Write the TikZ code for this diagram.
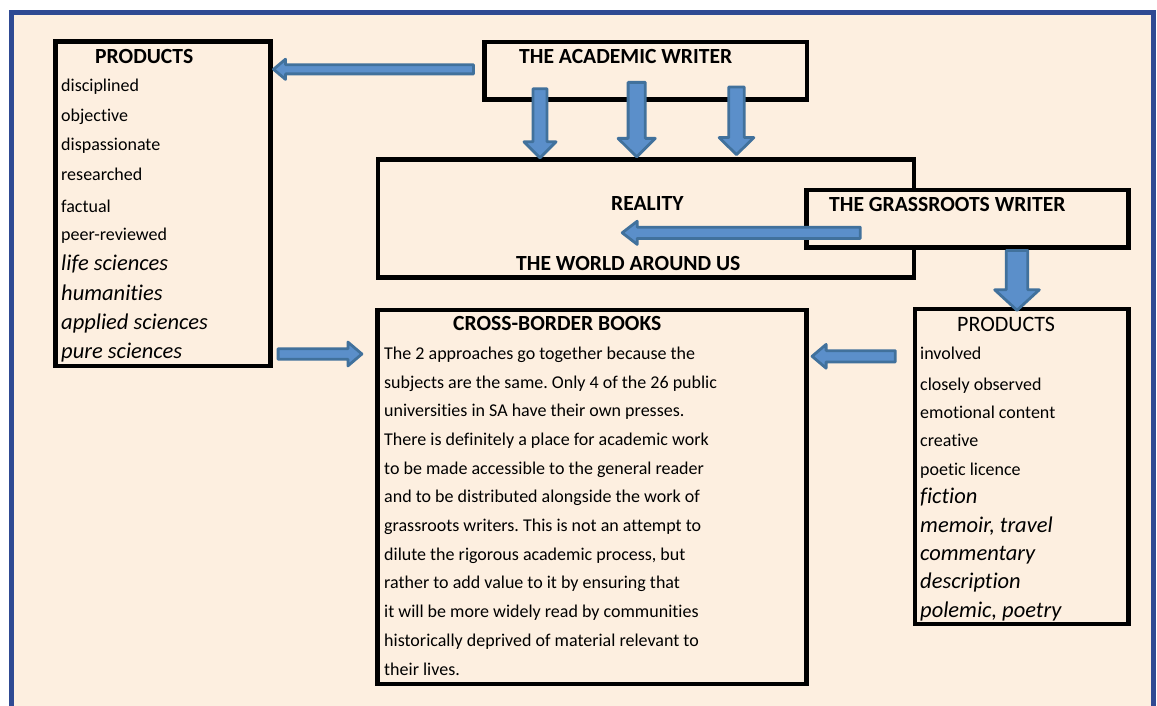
\documentclass[tikz,border=0pt]{standalone}
\usepackage{fontspec}
\setmainfont{Carlito}[Ligatures=NoCommon]
\usetikzlibrary{calc,fit}
\definecolor{bg}{HTML}{FDEFE0}
\definecolor{framecol}{HTML}{2F4A93}
\definecolor{afill}{HTML}{5B8FCA}
\definecolor{aline}{HTML}{41719C}
\frenchspacing
\tikzset{
 box/.style={draw=black, line width=4.5pt, fill=bg, inner sep=0pt, outer sep=0pt},
 barrowstyle/.style={fill=afill, draw=aline, line width=2.8pt, line join=round},
 txt/.style={anchor=base west, inner sep=0pt, font=\fontsize{18}{20}\selectfont},
 itx/.style={anchor=base west, inner sep=0pt, font=\fontsize{22.5}{24}\selectfont\itshape},
 hd/.style={anchor=base west, inner sep=0pt, font=\fontsize{21.6}{24}\selectfont\bfseries},
 hdr/.style={anchor=base west, inner sep=0pt, font=\fontsize{22}{24}\selectfont},
}
% #1 from, #2 to, #3 half shaft, #4 half head, #5 head length
\newcommand\blockarrow[5]{%
 \coordinate (hb) at ($(#2)!#5!(#1)$);
 \draw[barrowstyle] ($(#1)!#3!90:(#2)$) -- ($(hb)!#3!-90:(#1)$) -- ($(hb)!#4!-90:(#1)$) -- (#2)
   -- ($(hb)!#4!90:(#1)$) -- ($(hb)!#3!90:(#1)$) -- ($(#1)!#3!-90:(#2)$) -- cycle;
}
\begin{document}
\begin{tikzpicture}[x=1pt,y=-1pt]
\useasboundingbox (0,0) rectangle (1157,706);
\clip (0,0) rectangle (1157,706);
\fill[white] (0,0) rectangle (1157,706);
\draw[draw=framecol, line width=5.5pt, fill=bg] (11.5,12.5) rectangle (1153.5,740);

% boxes
\node[box, fit={(55.5,41.5) (270.5,366)}] (lp) {};
\node[box, fit={(484.7,42) (807,99.7)}] (acad) {};
\node[box, fit={(378,159.5) (914,277.5)}] (real) {};
\node[box, fit={(806.7,190) (1128.7,247.5)}] (grass) {};
\node[box, fit={(377.5,310) (806.5,684)}] (cb) {};
\node[box, fit={(915,309) (1128.7,624)}] (rp) {};

% arrow end points
\coordinate (a1s) at (473.5,69.3);   \coordinate (a1e) at (273.5,69.3);
\coordinate (d1s) at (540,88.7);     \coordinate (d1e) at (540,157.8);
\coordinate (d2s) at (636.7,82.4);   \coordinate (d2e) at (636.7,156.9);
\coordinate (d3s) at (736.5,87.1);   \coordinate (d3e) at (736.5,154.6);
\coordinate (gs) at (860.3,232.8);   \coordinate (ge) at (622.2,232.8);
\coordinate (d4s) at (1017,250.4);   \coordinate (d4e) at (1017,310.3);
\coordinate (rs) at (278.1,354);     \coordinate (re) at (361.9,354);
\coordinate (ls) at (895.3,356.3);   \coordinate (le) at (812.1,356.3);

\blockarrow{a1s}{a1e}{4.6pt}{10.1pt}{12pt}
\blockarrow{d1s}{d1e}{7pt}{16pt}{16pt}
\blockarrow{d2s}{d2e}{8.6pt}{18.6pt}{18.5pt}
\blockarrow{d3s}{d3e}{7.75pt}{17.4pt}{17pt}
\blockarrow{gs}{ge}{5.6pt}{11.6pt}{15pt}
\blockarrow{d4s}{d4e}{10.75pt}{22.3pt}{20.5pt}
\blockarrow{rs}{re}{5.25pt}{11.9pt}{14pt}
\blockarrow{ls}{le}{5.6pt}{11.9pt}{14pt}

% headings
\node[hd] (lph) at (95,63.5) {PRODUCTS};
\node[hd] (acadt) at (519,64) {THE ACADEMIC WRITER};
\node[hd] (realt) at (611,210.7) {REALITY};
\node[hd] (worldt) at (516,270) {THE WORLD AROUND US};
\node[hd] (grasst) at (829,211.7) {THE GRASSROOTS WRITER};
\node[hd] (cbt) at (453,330.7) {CROSS-BORDER BOOKS};
\node[hdr] (rph) at (957,331) {PRODUCTS};

% left list
\node[txt] (l1) at (61,92) {disciplined};
\node[txt] (l2) at (61,122) {objective};
\node[txt] (l3) at (61,151) {dispassionate};
\node[txt] (l4) at (61,181) {researched};
\node[txt] (l5) at (61,212) {factual};
\node[txt] (l6) at (61,240) {peer-reviewed};
\node[itx] (l7) at (61,270) {life sciences};
\node[itx] (l8) at (61,300) {humanities};
\node[itx] (l9) at (61,329) {applied sciences};
\node[itx] (l10) at (61,358) {pure sciences};

% right list
\node[txt] (r1) at (920,359) {involved};
\node[txt] (r2) at (920,390) {closely observed};
\node[txt] (r3) at (920,418) {emotional content};
\node[txt] (r4) at (920,446) {creative};
\node[txt] (r5) at (920,475) {poetic licence};
\node[itx] (r6) at (920,503) {fiction};
\node[itx] (r7) at (920,532) {memoir, travel};
\node[itx] (r8) at (920,560) {commentary};
\node[itx] (r9) at (920,588) {description};
\node[itx] (r10) at (920,617) {polemic, poetry};

% paragraph
\foreach \t [count=\i from 0] in {
 {The 2 approaches go together because the},
 {subjects are the same. Only 4 of the 26 public},
 {universities in SA have their own presses.},
 {There is definitely a place for academic work},
 {to be made accessible to the general reader},
 {and to be distributed alongside the work of},
 {grassroots writers. This is not an attempt to},
 {dilute the rigorous academic process, but},
 {rather to add value to it by ensuring that},
 {it will be more widely read by communities},
 {historically deprived of material relevant to},
 {their lives.}}
 \node[txt] (p\i) at (384,359.3+\i*28.7) {\t};
\end{tikzpicture}
\end{document}
